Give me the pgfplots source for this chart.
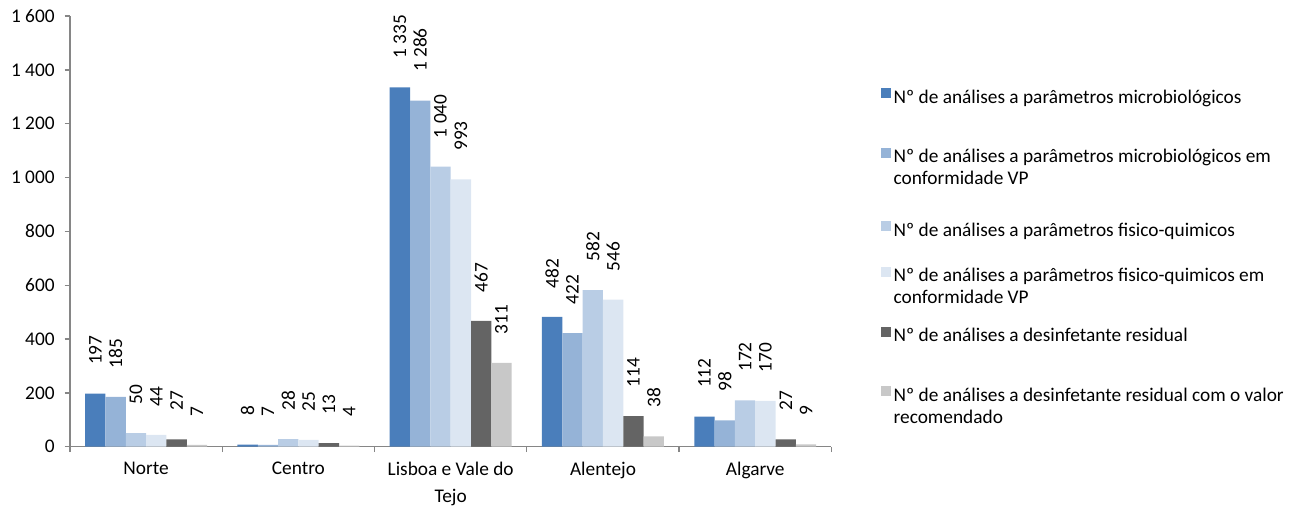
\documentclass[border=0pt]{standalone}
\usepackage{fontspec}
\setmainfont{Carlito}
\usepackage{pgfplots}
\pgfplotsset{compat=1.18}

\definecolor{cA}{HTML}{4A7EBB}
\definecolor{cB}{HTML}{95B3D7}
\definecolor{cC}{HTML}{B9CDE5}
\definecolor{cD}{HTML}{DCE6F2}
\definecolor{cE}{HTML}{646464}
\definecolor{cF}{HTML}{C8C8C8}
\definecolor{axisgray}{HTML}{868686}

% legend text box; optional argument moves the text down inside its row
\newcommand{\legtxt}[2][0pt]{\parbox[c][36.4pt][t]{311pt}{\raggedright\vspace*{#1}#2}}
\pgfplotsset{
  legsquare/.style={legend image code/.code={\fill[##1] (0pt,5.2pt) rectangle (7.5pt,12.7pt); \path (0pt,-22.35pt) (0pt,22.35pt);}},
  legsquarelow/.style={legend image code/.code={\fill[##1] (0pt,-5.3pt) rectangle (7.5pt,2.2pt); \path (0pt,-22.35pt) (0pt,22.35pt);}},
}

\begin{document}
\begin{tikzpicture}
\begin{axis}[
  scale only axis,
  width=571pt, height=323pt,
  font=\fontsize{14.5}{16.5}\selectfont,
  ybar=0pt, bar width=0.1335,
  xmin=-0.5, xmax=4.5, ymin=0, ymax=1600,
  ytick={0,200,...,1600},
  xtick={-0.5,0.5,...,4.5},
  x tick label as interval,
  xticklabels={Norte,Centro,{Lisboa e Vale do\\Tejo},Alentejo,Algarve},
  xticklabel style={align=center, anchor=north, yshift=-4pt,
    font=\fontsize{14.5}{20}\selectfont},
  yticklabel style={xshift=-4pt},
  axis lines=left,
  axis line style={-, draw=axisgray, line width=1pt},
  tick style={draw=axisgray, line width=1pt},
  major tick length=4pt,
  tick align=outside,
  /pgf/number format/assume math mode=true,
  /pgf/number format/1000 sep={\ },
  clip=false,
  nodes near coords,
  nodes near coords style={font=\fontsize{14.5}{16.5}\selectfont, anchor=west,
    rotate=90, xshift=18pt, /pgf/number format/1000 sep={\ }},
  legend cell align=left,
  legsquare,
  legend style={at={(1,1)}, anchor=north west, xshift=37pt, yshift=-44.35pt,
    draw=none, fill=none, inner sep=0pt,
    font=\fontsize{14.5}{16.5}\selectfont},
]
\addplot[fill=cA, draw=none] coordinates {(0,197) (1,8) (2,1335) (3,482) (4,112)};
\addlegendentry{\legtxt{Nº de análises a parâmetros microbiológicos}}
\addplot[fill=cB, draw=none] coordinates {(0,185) (1,7) (2,1286) (3,422) (4,98)};
\addlegendentry{\legtxt{Nº de análises a parâmetros microbiológicos em\\conformidade VP}}
\addplot[fill=cC, draw=none, legsquarelow] coordinates {(0,50) (1,28) (2,1040) (3,582) (4,172)};
\addlegendentry{\legtxt[10.5pt]{Nº de análises a parâmetros fisico-quimicos}}
\addplot[fill=cD, draw=none] coordinates {(0,44) (1,25) (2,993) (3,546) (4,170)};
\addlegendentry{\legtxt{Nº de análises a parâmetros fisico-quimicos em\\conformidade VP}}
\addplot[fill=cE, draw=none] coordinates {(0,27) (1,13) (2,467) (3,114) (4,27)};
\addlegendentry{\legtxt{Nº de análises a desinfetante residual}}
\addplot[fill=cF, draw=none] coordinates {(0,7) (1,4) (2,311) (3,38) (4,9)};
\addlegendentry{\legtxt{Nº de análises a desinfetante residual com o valor\\recomendado}}
\end{axis}
% margins of the reference: room left of the tick labels and above the axis
\path ([xshift=-52.5pt,yshift=12pt]current axis.north west);
\end{tikzpicture}
\end{document}
